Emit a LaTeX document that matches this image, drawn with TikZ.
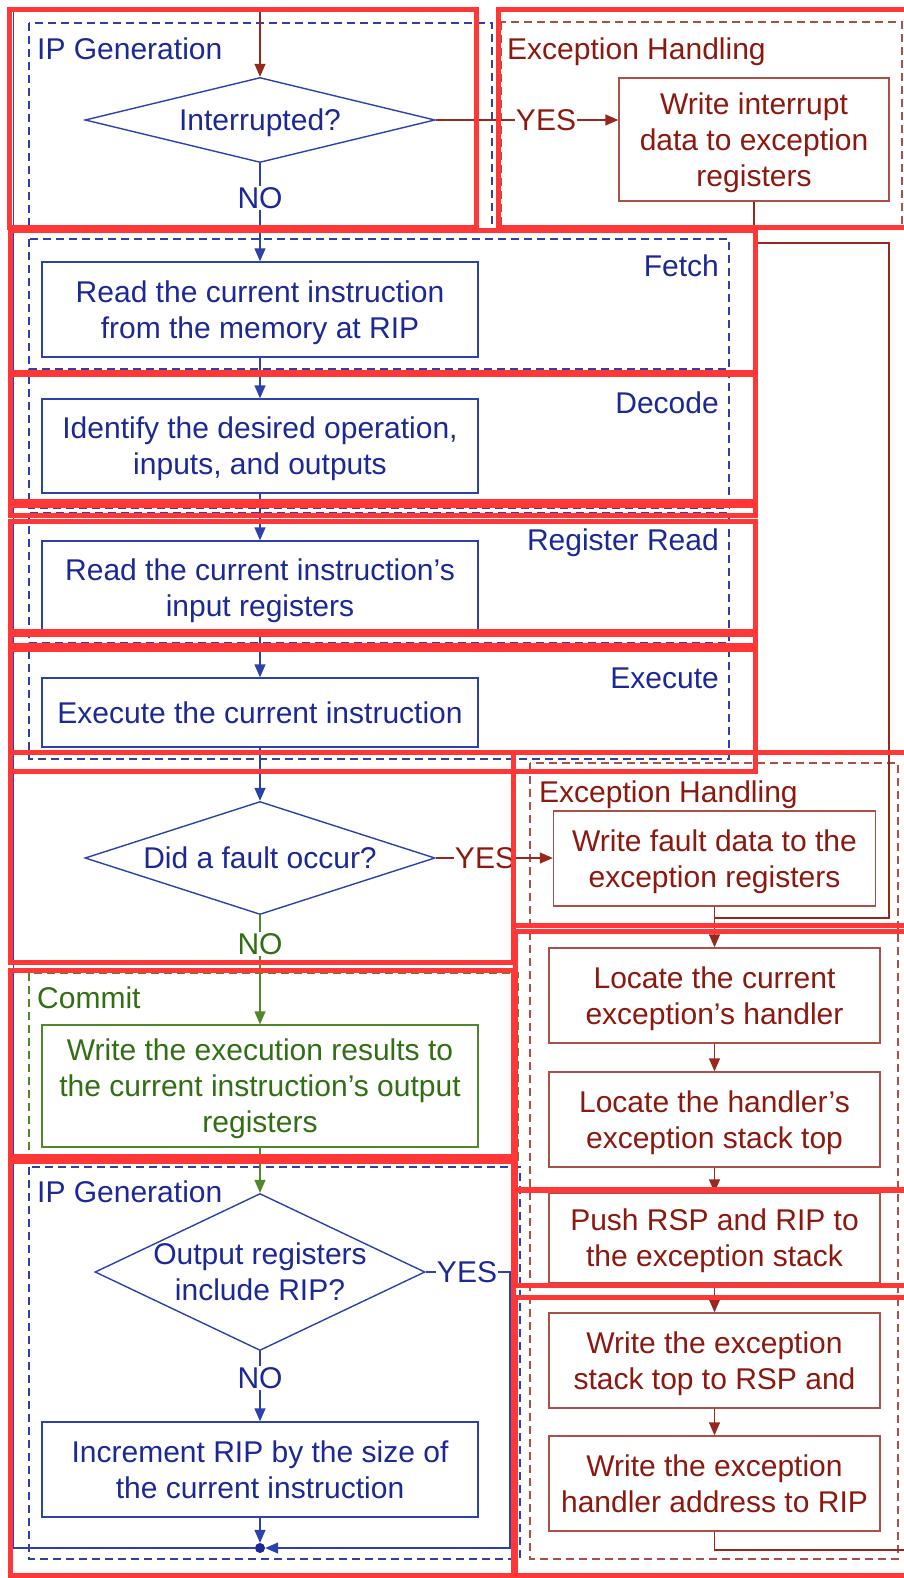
\documentclass[tikz,border=0pt]{standalone}
\usepackage{fontspec}
\setmainfont{Liberation Sans}
\usetikzlibrary{arrows.meta,shapes.geometric}
\definecolor{bt}{RGB}{28,40,150}
\definecolor{bl}{RGB}{45,65,170}
\definecolor{rt}{RGB}{140,25,15}
\definecolor{rl}{RGB}{170,80,70}
\definecolor{rc}{RGB}{150,40,30}
\definecolor{gt}{RGB}{50,110,20}
\definecolor{gl}{RGB}{80,135,45}
\definecolor{ov}{RGB}{255,55,55}
\begin{document}
\begin{tikzpicture}[x=1pt,y=-1pt,font=\fontsize{30}{36}\selectfont,
  tip/.style={-{Triangle[length=13pt,width=11pt]}},
  bbox/.style={draw=bl,line width=1.4pt,text=bt,align=center,inner sep=0pt,text depth=0pt,minimum width=436pt},
  gbox/.style={draw=gl,line width=1.4pt,text=gt,align=center,inner sep=0pt,text depth=0pt,minimum width=436pt},
  rbox/.style={draw=rl,line width=1.4pt,text=rt,align=center,inner sep=0pt,text depth=0pt,minimum width=331pt},
  dia/.style={shape=diamond,draw=bl,line width=1.4pt,inner sep=0pt},
  dtx/.style={inner sep=0pt,text=bt,align=center,text depth=0pt},
  dsh/.style={dash pattern=on 8pt off 5pt,line width=1.2pt},
  lab/.style={inner sep=0pt},
  cl/.style={inner sep=1pt},
  bln/.style={draw=bl,line width=1.4pt},
  rln/.style={draw=rc,line width=1.4pt},
  gln/.style={draw=gl,line width=1.4pt},
  ovl/.style={draw=ov,line width=5pt}]
\useasboundingbox (0,0) rectangle (903,1578);
\fill[white] (0,0) rectangle (903,1578);

% dashed stage boxes
\draw[bl,dsh] (29,23) rectangle (492,230);
\draw[rl,dsh] (501,22) rectangle (902,228);
\draw[bl,dsh] (29,239) rectangle (729,369);
\draw[bl,dsh] (29,376) rectangle (729,508);
\draw[bl,dsh] (29,513) rectangle (729,643);
\draw[bl,dsh] (29,651) rectangle (729,759);
\draw[rl,dsh] (530,763) rectangle (898,1559);
\draw[gl,dsh] (29,973) rectangle (518,1160);
\draw[bl,dsh] (29,1167) rectangle (520,1559);

% stage labels
\node[lab,text=bt,anchor=base west] (l1) at (37,60) {IP Generation};
\node[lab,text=rt,anchor=base west] (l2) at (507,60) {Exception Handling};
\node[lab,text=bt,anchor=base east] (l3) at (719,277) {Fetch};
\node[lab,text=bt,anchor=base east] (l4) at (719,413) {Decode};
\node[lab,text=bt,anchor=base east] (l5) at (719,550) {Register Read};
\node[lab,text=bt,anchor=base east] (l6) at (719,688) {Execute};
\node[lab,text=rt,anchor=base west] (l7) at (539,802) {Exception Handling};
\node[lab,text=gt,anchor=base west] (l8) at (37,1008) {Commit};
\node[lab,text=bt,anchor=base west] (l9) at (37,1202) {IP Generation};

% diamonds
\node[dia,minimum width=350pt,minimum height=85pt] (d1) at (260,120) {};
\node[dtx] (d1t) at (d1.center) {Interrupted?};
\node[dia,minimum width=350pt,minimum height=113pt] (d2) at (260,858) {};
\node[dtx] (d2t) at (d2.center) {Did a fault occur?};
\node[dia,minimum width=330pt,minimum height=157pt] (d3) at (260,1272) {};
\node[dtx] (d3t) at (d3.center) {Output registers\\include RIP?};

% boxes
\node[rbox,minimum width=270pt,minimum height=123pt] (b0) at (754,139.5) {Write interrupt\\data to exception\\registers};
\node[bbox,minimum height=95pt] (b1) at (260,309.5) {Read the current instruction\\from the memory at RIP};
\node[bbox,minimum height=94pt] (b2) at (260,446) {Identify the desired operation,\\inputs, and outputs};
\node[bbox,minimum height=94pt] (b3) at (260,588) {Read the current instruction’s\\input registers};
\node[bbox,minimum height=69pt] (b4) at (260,712.5) {Execute the current instruction};
\node[rbox,minimum width=322pt,minimum height=95pt] (b5) at (714.5,858.5) {Write fault data to the\\exception registers};
\node[gbox,minimum height=122pt] (b6) at (260,1086) {Write the execution results to\\the current instruction’s output\\registers};
\node[rbox,minimum height=95pt] (b7) at (714.5,995.5) {Locate the current\\exception’s handler};
\node[rbox,minimum height=95pt] (b8) at (714.5,1119.5) {Locate the handler’s\\exception stack top};
\node[rbox,minimum height=90pt] (b9) at (714.5,1238) {Push RSP and RIP to\\the exception stack};
\node[rbox,minimum height=95pt] (b10) at (714.5,1360.5) {Write the exception\\stack top to RSP and};
\node[rbox,minimum height=95pt] (b11) at (714.5,1483.5) {Write the exception\\handler address to RIP};
\node[bbox,minimum height=95pt] (b12) at (260,1469.5) {Increment RIP by the size of\\the current instruction};

% connector labels
\node[cl,text=rt] (y1) at (546,120) {YES};
\node[cl,text=bt] (n1) at (260,198) {NO};
\node[cl,text=rt] (y2) at (485,858) {YES};
\node[cl,text=gt] (n2) at (260,944) {NO};
\node[cl,text=bt] (y3) at (467,1272) {YES};
\node[cl,text=bt] (n3) at (260,1378) {NO};

% junction and coordinates
\fill[bt] (260,1548) circle (5pt);
\node[circle,inner sep=0pt,minimum size=10pt] (jn) at (260,1548) {};
\coordinate (lb) at (13.5,1548);
\coordinate (lt) at (13.5,10);
\coordinate (tp) at (260,10);
\coordinate (rcn) at (510,1548);
\coordinate (ia) at (889,243);
\coordinate (ib) at (889,918);
\coordinate (jx) at (714.5,918);
\coordinate (ex) at (910,1550);

% connectors
\draw[bln] (jn.west) -- (lb) -- (lt) -- (tp);
\draw[rln,tip] (tp) -- (d1.north);
\draw[rln] (d1.east) -- (y1.west);
\draw[rln,tip] (y1.east) -- (b0.west |- y1.east);
\draw[bln] (d1.south) -- (n1.north);
\draw[bln,tip] (n1.south) -- (b1.north);
\draw[bln,tip] (b1.south) -- (b2.north);
\draw[bln,tip] (b2.south) -- (b3.north);
\draw[bln,tip] (b3.south) -- (b4.north);
\draw[bln,tip] (b4.south) -- (d2.north);
\draw[rln] (d2.east) -- (y2.west);
\draw[rln,tip] (y2.east) -- (b5.west |- y2.east);
\draw[gln] (d2.south) -- (n2.north);
\draw[gln,tip] (n2.south) -- (b6.north);
\draw[gln,tip] (b6.south) -- (d3.north);
\draw[bln] (d3.east) -- (y3.west);
\draw[bln,tip] (y3.east) -| (rcn) -- (jn.east);
\draw[bln] (d3.south) -- (n3.north);
\draw[bln,tip] (n3.south) -- (b12.north);
\draw[bln,tip] (b12.south) -- (jn.north);
\draw[rln] (b0.south) |- (ia) -- (ib) -- (jx);
\draw[rln,tip] (b5.south) -- (b7.north);
\draw[rln,tip] (b7.south) -- (b8.north);
\draw[rln,tip] (b8.south) -- (b9.north);
\draw[rln,tip] (b9.south) -- (b10.north);
\draw[rln,tip] (b10.south) -- (b11.north);
\draw[rln] (b11.south) |- (ex);

% overlay rectangles
\draw[ovl] (9.5,10) rectangle (476,228);
\draw[ovl] (498,10) rectangle (910,228);
\draw[ovl] (10,231) rectangle (755,372);
\draw[ovl] (10,374) rectangle (755,501);
\draw[ovl] (10,505) rectangle (755,515);
\draw[ovl] (10,521) rectangle (755,631);
\draw[ovl] (10,634) rectangle (755,645);
\draw[ovl] (10,649) rectangle (755,771);
\draw[ovl] (10,752) rectangle (513,962);
\draw[ovl] (513,752) rectangle (910,925);
\draw[ovl] (10,970) rectangle (513,1156);
\draw[ovl] (515,931) rectangle (910,1189);
\draw[ovl] (515,1190) rectangle (910,1285);
\draw[ovl] (515,1297) rectangle (910,1575);
\draw[ovl] (10,1161) rectangle (513,1575);
\end{tikzpicture}
\end{document}
